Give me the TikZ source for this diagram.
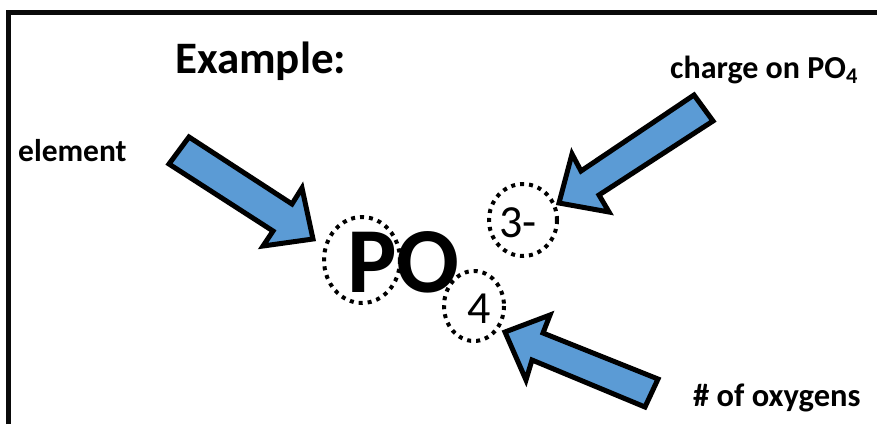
\documentclass[tikz,border=0pt]{standalone}
\usepackage{fontspec}
\setmainfont{Carlito}
\usepackage{tikz}
\usetikzlibrary{positioning}
\definecolor{arrowblue}{RGB}{91,155,213}
\definecolor{framegray}{RGB}{10,10,10}
\newcommand{\fsz}[1]{\fontsize{#1}{#1}\selectfont}
\tikzset{
  blockarrow/.style={draw=black,fill=arrowblue,line width=5pt,line join=miter},
  dotring/.style={draw=black,line width=4pt,dash pattern=on 4pt off 5pt},
  lbl/.style={inner sep=0pt,anchor=base west,font=\bfseries}
}

\begin{document}
\begin{tikzpicture}[x=1pt,y=-1pt]
\useasboundingbox (0,0) rectangle (877,424);
% frame
\draw[line width=5pt,framegray] (8,424) -- (8,12) -- (877,12);
% labels
\node[lbl] (example) at (175,73) {\fsz{45}Example:};
\node[lbl] (element) at (18,161) {\fsz{31.5}element};
\node[lbl] (charge) at (670,78) {\fsz{32}charge on PO$_{\mathbf 4}$};
\node[lbl] (oxygens) at (693,406) {\fsz{32.5}\# of oxygens};
% formula
\node[lbl] (po) at (347,292) {\fsz{93}PO};
\node[inner sep=0pt,anchor=base west] (charge num) at (499,237) {\fsz{46}3-};
\node[inner sep=0pt,anchor=base west] (four) at (467,323) {\fsz{46}4};
% dotted rings
\draw[dotring] (362,260) ellipse [x radius=38, y radius=43]; % P
\draw[dotring] (523,220) ellipse [x radius=34, y radius=36]; % 3-
\draw[dotring] (474,306) ellipse [x radius=30, y radius=35]; % 4
% block arrows
\filldraw[blockarrow] (169,164) -- (189,137) -- (292,204) -- (302,188) -- (313,239) -- (263,246) -- (273,231) -- cycle; % element
\filldraw[blockarrow] (694,95) -- (713,121) -- (599,195) -- (609,212) -- (559,203) -- (572,154) -- (581,171) -- cycle; % charge
\filldraw[blockarrow] (505,332) -- (550,315) -- (543,333) -- (658,379) -- (645,407) -- (532,360) -- (526,380) -- cycle; % oxygens
\end{tikzpicture}
\end{document}
